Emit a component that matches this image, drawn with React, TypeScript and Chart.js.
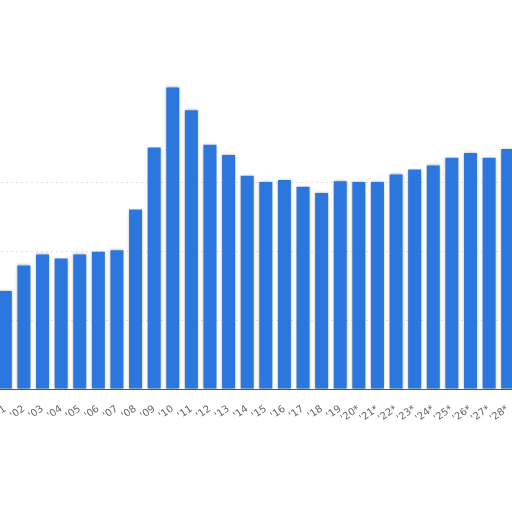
import React, { useEffect, useRef } from "react";
import Chart from "chart.js/auto";

const categories = [
  "'01", "'02", "'03", "'04", "'05", "'06", "'07", "'08", "'09", "'10",
  "'11", "'12", "'13", "'14", "'15", "'16", "'17", "'18", "'19", "'20*",
  "'21*", "'22*", "'23*", "'24*", "'25*", "'26*", "'27*", "'28*",
];

const values = [
  142, 179, 195, 189, 195, 199, 201, 260, 350, 437,
  404, 354, 339, 309, 300, 303, 293, 284, 301, 300,
  300, 311, 318, 324, 335, 342, 335, 348,
];

const yMin = 0;
const yMax = 500;
const yStep = 100;
const visibleGridMax = 300;

const barShadow = {
  id: "barShadow",
  beforeDatasetsDraw(chart: any) {
    const ctx = chart.ctx;
    ctx.save();
    ctx.shadowColor = "rgba(0,0,0,0.35)";
    ctx.shadowBlur = 3;
    ctx.shadowOffsetX = 0;
    ctx.shadowOffsetY = 0;
  },
  afterDatasetsDraw(chart: any) {
    chart.ctx.restore();
  },
};

export default function App() {
  const ref = useRef<HTMLCanvasElement | null>(null);

  useEffect(() => {
    if (!ref.current) return;
    const chart = new Chart(ref.current, {
      type: "bar",
      data: {
        labels: categories,
        datasets: [
          {
            data: values,
            backgroundColor: "#2b77dd",
            borderWidth: 0,
            categoryPercentage: 1,
            barPercentage: 0.7,
          },
        ],
      },
      plugins: [barShadow],
      options: {
        animation: false,
        responsive: false,
        layout: { padding: { top: 44, left: 0, right: 0, bottom: 0 } },
        plugins: {
          legend: { display: false },
          tooltip: { enabled: false },
        },
        scales: {
          x: {
            grid: { display: false, drawTicks: false },
            border: { display: true, color: "#555", width: 1 },
            ticks: {
              autoSkip: false,
              minRotation: 35,
              maxRotation: 35,
              padding: 14,
              color: "#666",
              font: { family: "'DejaVu Sans', sans-serif", size: 10 },
            },
            afterFit: (scale: any) => {
              scale.height = 123;
              scale.paddingLeft = 0;
              scale.paddingRight = 0;
            },
          },
          y: {
            display: true,
            min: yMin,
            max: yMax,
            ticks: { display: false, stepSize: yStep },
            grid: {
              color: (c: any) =>
                c.tick && c.tick.value > 0 && c.tick.value <= visibleGridMax
                  ? "rgba(0,0,0,0.12)"
                  : "rgba(0,0,0,0)",
              drawTicks: false,
            },
            border: { display: false, dash: [2, 3] },
            afterFit: (scale: any) => {
              scale.width = 0;
            },
          },
        },
      },
    });
    return () => chart.destroy();
  }, []);

  return (
    <div
      style={{
        position: "fixed",
        left: 0,
        top: 0,
        width: 512,
        height: 512,
        overflow: "hidden",
        background: "#fff",
      }}
    >
      <canvas
        ref={ref}
        width={521}
        height={512}
        style={{ position: "absolute", left: -4, top: 0, width: 521, height: 512 }}
      />
    </div>
  );
}
